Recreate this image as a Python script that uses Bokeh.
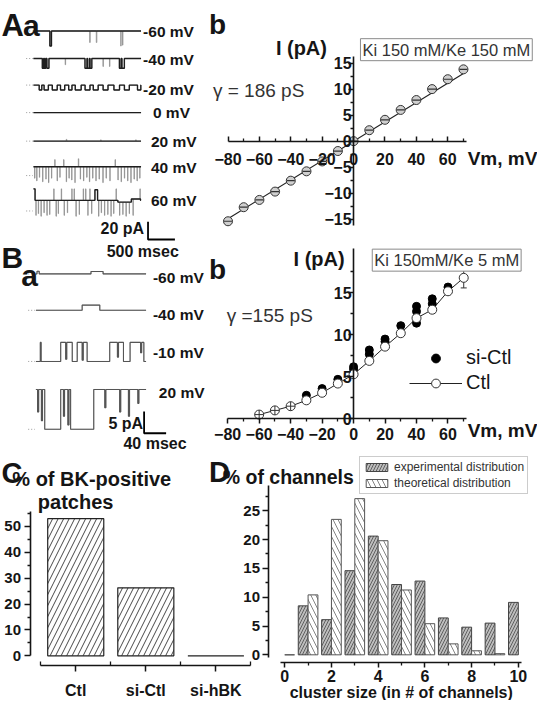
from bokeh.plotting import figure
from bokeh.models import (Range1d, FixedTicker, Label, Legend, LegendItem, LinearAxis,
                          ColumnDataSource, Whisker, TeeHead)
from bokeh.embed import file_html
from bokeh.resources import INLINE

# ======================= DATA =======================
# --- Panel A b : I-V, Ki 150 / Ke 150
ab_vm = [-80, -70, -60, -50, -40, -30, -20, -10, 0, 10, 20, 30, 40, 50, 60, 70]
ab_i = [-15.4, -12.7, -11.3, -9.7, -7.6, -5.8, -3.9, -1.9, 0.0, 2.1, 4.1, 6.0, 7.9, 10.0, 11.9, 13.8]
ab_fit_vm = [-80, 70]
ab_fit_i = [-14.9, 13.0]

# --- Panel B b : I-V, Ki 150 / Ke 5
ctl_vm = [-60, -50, -40, -30, -20, -10, 0, 10, 20, 30, 40, 50, 60, 70]
ctl_i = [0.5, 1.0, 1.5, 2.2, 3.1, 4.2, 5.3, 6.9, 8.6, 10.2, 12.0, 13.0, 15.2, 16.8]
ctl_err = [0.2, 0.2, 0.2, 0.2, 0.2, 0.2, 0.3, 0.3, 0.3, 0.3, 0.3, 0.4, 0.4, 1.2]
sictl_vm = [-30, -20, -10, 0, 0, 10, 10, 20, 20, 30, 40, 40, 40, 50, 50, 60]
sictl_i = [2.8, 3.6, 4.7, 6.2, 5.9, 8.2, 7.7, 9.5, 9.2, 11.1, 13.4, 12.8, 11.4, 14.3, 13.7, 15.7]

# --- Panel C
c_groups = ["Ctl", "si-Ctl", "si-hBK"]
c_pct = [53.0, 26.3, 0.0]

# --- Panel D
d_exp_size = [1, 2, 3, 4, 5, 6, 7, 8, 9, 10]
d_exp_pct = [8.5, 6.1, 14.6, 20.6, 12.2, 12.8, 6.4, 4.8, 5.5, 9.1]
d_theo_size = [0, 1, 2, 3, 4, 5, 6, 7, 8, 9]
d_theo_pct = [0.0, 10.4, 23.5, 27.1, 19.8, 11.25, 5.4, 1.9, 0.7, 0.2]

# --- Panel A a : single-channel records (t in ms, current in pA), events = (start, end, level)
aa_labels = ["-60 mV", "-40 mV", "-20 mV", "0 mV", "20 mV", "40 mV", "60 mV"]
aa_duration_ms = 2000
aa_rest_pa = [0, 0, 0, 0, 0, 10, 12]
aa_ev_m60 = [(305, 335, -17), (1045, 1055, -13), (1168, 1178, -13), (1622, 1630, -17), (1655, 1663, -16)]
aa_ev_m40 = [(165, 190, -11), (205, 228, -11), (250, 288, -11), (590, 598, -7), (958, 995, -11),
             (1005, 1040, -11), (1052, 1085, -11), (1292, 1300, -9), (1413, 1421, -9),
             (1598, 1630, -11), (1645, 1690, -11)]
aa_ev_m20 = [(107, 155, -5.5), (198, 277, -5.5), (350, 442, -5.5), (503, 581, -5.5), (655, 716, -5.5),
             (777, 887, -5.5), (960, 1051, -5.5), (1112, 1203, -5.5), (1295, 1386, -5.5),
             (1496, 1600, -5.5), (1691, 1782, -5.5), (1934, 1996, -5.5)]
aa_ev_0 = []
aa_ev_p20 = [(610, 620, 2), (1250, 1258, 1.5), (1900, 1910, 1.5)]
aa_ev_p40 = [(395, 403, 18), (560, 568, 18), (834, 842, 19), (1517, 1525, 18),
             (20, 28, -3), (60, 66, -6), (110, 116, -2), (170, 176, -7), (230, 236, -4), (280, 286, -8),
             (335, 341, -3), (440, 446, -6), (490, 496, -2), (610, 616, -7), (660, 666, -3), (710, 716, -5),
             (770, 776, -8), (870, 876, -4), (930, 936, -6), (990, 996, -2), (1040, 1046, -7),
             (1100, 1106, -3), (1160, 1166, -6), (1220, 1226, -4), (1290, 1296, -8), (1350, 1356, -3),
             (1420, 1426, -6), (1570, 1576, -5), (1630, 1636, -7), (1690, 1696, -3), (1750, 1756, -6),
             (1810, 1816, -8), (1870, 1876, -4), (1925, 1931, -6), (1975, 1981, -3)]
aa_ev_p60 = [(1569, 1820, 10), (1820, 1990, 13.5),
             (0, 30, 25), (377, 384, 25), (517, 524, 25), (712, 719, 25), (755, 762, 25), (925, 932, 25),
             (969, 976, 25), (1047, 1054, 25), (1143, 1192, 24), (1535, 1542, 25), (1979, 1986, 25),
             (45, 51, -5), (90, 96, -3), (140, 146, -6), (195, 201, -2), (250, 256, -5), (300, 306, -4),
             (420, 426, -6), (460, 466, -3), (570, 576, -5), (630, 636, -2), (790, 796, -6),
             (850, 856, -4), (1010, 1016, -5), (1080, 1086, -3), (1210, 1216, -6), (1260, 1266, -2),
             (1320, 1326, -5), (1380, 1386, -4), (1440, 1446, -6), (1490, 1496, -3), (1600, 1606, -5),
             (1660, 1666, -4), (1720, 1726, -6), (1780, 1786, -3), (1850, 1856, -5)]
aa_events = [aa_ev_m60, aa_ev_m40, aa_ev_m20, aa_ev_0, aa_ev_p20, aa_ev_p40, aa_ev_p60]
aa_scale_pa, aa_scale_ms = 20, 500

# --- Panel B a : single-channel records
ba_labels = ["-60 mV", "-40 mV", "-10 mV", "20 mV"]
ba_duration_ms = 200
ba_rest_pa = [0, 0, 0, 0]
ba_ev_m60 = [(2, 6, 0.6), (100, 122, 0.55)]
ba_ev_m40 = [(84, 116, 1.2)]
ba_ev_m10 = [(8, 9.5, 4.4), (45, 66, 4.4), (54, 56, 0.5), (75, 93, 4.4), (84, 86, 0.3),
             (134, 159, 4.4), (148, 150, 1.0), (171, 196, 4.4), (190, 192, 2.0)]
ba_ev_p20 = [(0, 16, 9.2), (3, 5, 4.0), (10, 12, 2.0), (45, 63, 9.2), (50, 52, 3.0), (58, 60, 1.0),
             (105, 200, 9.2), (125, 127, 5.0), (152, 154, 4.0), (168, 170, 3.0), (185, 187, 6.0)]
ba_events = [ba_ev_m60, ba_ev_m40, ba_ev_m10, ba_ev_p20]
ba_scale_pa, ba_scale_ms = 5, 40

# ======================= LAYOUT =======================
W, H = 537, 700
K = 0.9835            # reference px -> canvas px
X0, Y0 = 2.0, 3.0     # reference px shown at canvas origin
XE, YE = X0 + W / K, Y0 + H / K
FONT = "Liberation Sans"
INK = "#151515"

p = figure(width=W, height=H, x_range=Range1d(X0, XE), y_range=Range1d(YE, Y0),
           x_axis_type=None, y_axis_type=None, output_backend="svg", toolbar_location=None,
           min_border=0, min_border_left=0, min_border_right=0, min_border_top=0, min_border_bottom=0,
           background_fill_color="white", border_fill_color="white", outline_line_color=None)


def add_ranges(name, x0, sx, y0, sy):
    # X_ref = x0 + sx * v ; Y_ref = y0 - sy * v
    p.extra_x_ranges[name] = Range1d((X0 - x0) / sx, (XE - x0) / sx)
    p.extra_y_ranges[name] = Range1d((y0 - YE) / sy, (y0 - Y0) / sy)


def add_axis(place, name, fixed, ticks, minor, tin, tout, min_in, min_out, standoff,
             size="16px", bounds=None, overrides=None):
    ax = LinearAxis(x_range_name=name, y_range_name=name, fixed_location=fixed)
    ax.ticker = FixedTicker(ticks=ticks, minor_ticks=minor)
    ax.major_tick_in = tin
    ax.major_tick_out = tout
    ax.minor_tick_in = min_in
    ax.minor_tick_out = min_out
    ax.axis_line_width = 1.6
    ax.axis_line_color = INK
    ax.major_tick_line_width = 1.5
    ax.major_tick_line_color = INK
    ax.minor_tick_line_width = 1.3
    ax.minor_tick_line_color = INK
    ax.major_label_text_font = FONT
    ax.major_label_text_font_style = "bold"
    ax.major_label_text_font_size = size
    ax.major_label_text_color = INK
    ax.major_label_standoff = standoff
    if bounds is not None:
        ax.bounds = bounds
    if overrides is not None:
        ax.major_label_overrides = overrides
    p.add_layout(ax, place)
    return ax


def step_trace(rest, events, t_end):
    bps = sorted(set([0, t_end] + [e[0] for e in events] + [e[1] for e in events]))
    bps = [b for b in bps if 0 <= b <= t_end]
    xs, ys = [], []
    for a, b in zip(bps[:-1], bps[1:]):
        lvl = rest
        for s, e, l in events:
            if s <= a and e >= b:
                lvl = l
        xs += [a, b]
        ys += [lvl, lvl]
    return xs, ys


iv_major = [-80, -60, -40, -20, 0, 20, 40, 60]
iv_minor = [-70, -50, -30, -10, 10, 30, 50, 70]

# ---------- Panel A b ----------
add_ranges("ab", 361.0, 1.596, 146.0, 5.29)
add_axis("below", "ab", 0, iv_major, iv_minor, 5, 0, 3, 0, 12, bounds=(-80, 72))
add_axis("left", "ab", 0, [-15, -10, -5, 0, 5, 10, 15], [-12.5, -7.5, -2.5, 2.5, 7.5, 12.5],
         0, 5, 0, 3, -3, bounds=(-16.2, 16.3))
rk = dict(x_range_name="ab", y_range_name="ab")
p.line(ab_fit_vm, ab_fit_i, line_color="#222", line_width=1.2, **rk)
p.scatter(ab_vm, ab_i, size=9, marker="circle", fill_color="#cfcfcf", line_color="#333", line_width=1, **rk)
p.scatter(ab_vm, ab_i, size=8, marker="dash", line_color="#333", line_width=1.2, **rk)

# ---------- Panel B b ----------
add_ranges("bb", 361.0, 1.6, 428.3, 8.53)
add_axis("below", "bb", 0, iv_major, iv_minor, 0, 5, 0, 3, 4, bounds=(-80, 72))
add_axis("left", "bb", 0, [0, 5, 10, 15], [2.5, 7.5, 12.5, 17.5], 0, 5, 0, 3, -3, bounds=(0, 20.3))
rk = dict(x_range_name="bb", y_range_name="bb")
ctl_src = ColumnDataSource(dict(
    v=ctl_vm, i=ctl_i,
    lo=[a - b for a, b in zip(ctl_i, ctl_err)], hi=[a + b for a, b in zip(ctl_i, ctl_err)],
    m=["circle_cross" if v <= -40 else "circle" for v in ctl_vm]))
r_line = p.line("v", "i", source=ctl_src, line_color="#222", line_width=1, **rk)
p.add_layout(Whisker(base="v", upper="hi", lower="lo", source=ctl_src, line_color="#333", line_width=1,
                     upper_head=TeeHead(size=6, line_color="#333"),
                     lower_head=TeeHead(size=6, line_color="#333"), **rk))
r_si = p.scatter(sictl_vm, sictl_i, size=8, marker="circle", fill_color="black", line_color="black", **rk)
r_ctl = p.scatter("v", "i", source=ctl_src, marker="m", size=9, fill_color="white",
                  line_color="#333", line_width=1, **rk)
ctl_legend_row = ctl_vm.index(0)
p.add_layout(Legend(items=[LegendItem(label="si-Ctl", renderers=[r_si]),
                           LegendItem(label="Ctl", renderers=[r_line, r_ctl], index=ctl_legend_row)],
                    location=(round((418 - X0) * K), round((YE - 404) * K)),
                    background_fill_alpha=0, border_line_color=None,
                    label_text_font=FONT, label_text_font_size="20px", label_text_color=INK,
                    glyph_width=53, glyph_height=22, label_height=22, spacing=2, padding=0, margin=0,
                    label_standoff=4))

# ---------- Panel C ----------
c_x0, c_sx, c_y0, c_sy = 7.25, 71.25, 669.3, 2.63
add_ranges("c", c_x0, c_sx, c_y0, c_sy)
c_pos = list(range(1, len(c_groups) + 1))
add_axis("below", "c", (c_y0 - 679) / c_sy, c_pos, [c - 0.5 for c in c_pos] + [c_pos[-1] + 0.5],
         0, 6, 4, 0, 11, size="16px", bounds=(0.5, len(c_groups) + 0.5),
         overrides={c: g for c, g in zip(c_pos, c_groups)})
add_axis("left", "c", (32 - c_x0) / c_sx, [0, 10, 20, 30, 40, 50], [5, 15, 25, 35, 45, 55],
         0, 6, 0, 3, 3, size="15px", bounds=(0, 55.6))
p.vbar(x=c_pos, top=c_pct, bottom=0, width=0.8, fill_color="white", line_color="#222", line_width=1.2,
       hatch_pattern="/", hatch_color="#333", hatch_scale=11, hatch_weight=0.9,
       x_range_name="c", y_range_name="c")

# ---------- Panel D ----------
d_x0, d_sx, d_y0, d_sy = 291.0, 23.75, 668.3, 5.86
add_ranges("d", d_x0, d_sx, d_y0, d_sy)
add_axis("below", "d", (d_y0 - 676) / d_sy, [0, 2, 4, 6, 8, 10], [1, 3, 5, 7, 9], 0, 5, 0, 3, 3,
         size="16px", bounds=(-0.17, 10.15))
add_axis("left", "d", (275 - d_x0) / d_sx, [0, 5, 10, 15, 20, 25], [2.5, 7.5, 12.5, 17.5, 22.5, 27.5],
         0, 6, 0, 3, 3, size="15px", bounds=(-0.4, 29.3))
bw = 0.42
rk = dict(x_range_name="d", y_range_name="d")
r_exp = p.vbar(x=[c - bw / 2 for c in d_exp_size], top=d_exp_pct, bottom=0, width=bw,
               fill_color="#bdbdbd", line_color="#444", line_width=1,
               hatch_pattern="/", hatch_color="#555", hatch_scale=6, hatch_weight=0.9, **rk)
r_theo = p.vbar(x=[c + bw / 2 for c in d_theo_size], top=d_theo_pct, bottom=0, width=bw,
                fill_color="white", line_color="#555", line_width=1,
                hatch_pattern="\\", hatch_color="#777", hatch_scale=10, hatch_weight=0.9, **rk)
p.add_layout(Legend(items=[LegendItem(label="experimental distribution", renderers=[r_exp]),
                           LegendItem(label="theoretical distribution", renderers=[r_theo])],
                    location=(round((367 - X0) * K), round((YE - 505) * K)),
                    background_fill_color="white", border_line_color="#999", border_line_width=1,
                    label_text_font=FONT, label_text_font_size="12px", label_text_color="#333",
                    glyph_width=27, glyph_height=10, label_height=10, spacing=2, padding=3, margin=0,
                    label_standoff=4))


# ---------- single-channel traces ----------
def draw_traces(name, rests, events, bases, t_end, ytop, sy, dots, dark, light, width):
    rk = dict(x_range_name=name, y_range_name=name)
    for rest, ev, Yb in zip(rests, events, bases):
        off = (ytop - Yb) / sy
        xs, ys = step_trace(rest, ev, t_end)                    # every event (brief ones look faint)
        p.line(xs, [y + off for y in ys], line_color=light, line_width=0.8, **rk)
        long_ev = [e for e in ev if e[1] - e[0] >= t_end * 0.006]
        xs, ys = step_trace(rest, long_ev, t_end)               # resolved events, drawn dark
        p.line(xs, [y + off for y in ys], line_color=dark, line_width=width, **rk)
        p.line(dots, [off, off], line_color="#999", line_width=1, line_dash="1 2", **rk)


aa_ytop = 25.0
add_ranges("aa", 35.5, 0.0547, aa_ytop, 0.9)
draw_traces("aa", aa_rest_pa, aa_events, [34, 62, 89, 117, 146, 181, 217], aa_duration_ms,
            aa_ytop, 0.9, [-135, -12], "#1e1e1e", "#8a8a8a", 1.4)
sb_t = (152 - 35.5) / 0.0547
sb_y = (aa_ytop - 246) / 0.9
p.line([sb_t, sb_t, sb_t + aa_scale_ms], [sb_y + aa_scale_pa, sb_y, sb_y], line_color="black",
       line_width=1.8, x_range_name="aa", y_range_name="aa")

ba_ytop = 272.0
add_ranges("ba", 38.0, 0.56, ba_ytop, 4.4)
draw_traces("ba", ba_rest_pa, ba_events, [281, 318, 370, 439], ba_duration_ms,
            ba_ytop, 4.4, [-14, -2], "#555555", "#9a9a9a", 1.1)
sb_t = (148 - 38.0) / 0.56
sb_y = (ba_ytop - 443) / 4.4
p.line([sb_t, sb_t, sb_t + ba_scale_ms], [sb_y + ba_scale_pa, sb_y, sb_y], line_color="black",
       line_width=1.8, x_range_name="ba", y_range_name="ba")


# ---------- texts (reference pixel coordinates) ----------
def add_text(text, X, Y, size, bold=False, align="left", baseline="middle", color=INK, **kw):
    p.add_layout(Label(x=X, y=Y, text=text, text_font=FONT, text_font_size=f"{size}px",
                       text_font_style="bold" if bold else "normal", text_align=align,
                       text_baseline=baseline, text_color=color, **kw))


add_text("A", 3, 28, 31, True, baseline="alphabetic")
add_text("a", 25, 28, 30, True, baseline="alphabetic")
add_text("b", 214, 27, 28, True, baseline="alphabetic")
add_text("B", 3, 264, 30, True, baseline="alphabetic")
add_text("a", 23, 283, 30, True, baseline="alphabetic")
add_text("b", 214, 277, 28, True, baseline="alphabetic")
add_text("C", 3, 483, 29, True, baseline="alphabetic")
add_text("D", 214, 482, 29, True, baseline="alphabetic")

aa_label_pos = [(147, 35), (147, 63), (147, 94), (157, 117), (155, 146), (155, 173), (155, 206)]
for lab, (X, Y) in zip(aa_labels, aa_label_pos):
    add_text(lab, X, Y, 15.5, True)
add_text(f"{aa_scale_pa} pA", 148, 235, 16, True, align="right")
add_text(f"{aa_scale_ms} msec", 110, 258, 16, True)

ba_label_pos = [(157, 285), (157, 322), (157, 361), (163, 402)]
for lab, (X, Y) in zip(ba_labels, ba_label_pos):
    add_text(lab, X, Y, 15.5, True)
add_text(f"{ba_scale_pa} pA", 147, 433, 16, True, align="right")
add_text(f"{ba_scale_ms} msec", 127, 453, 16, True)

add_text("I (pA)", 282, 51, 20, True)
add_text("Ki 150 mM/Ke 150 mM", 368, 53, 16.5, color="#333",
         border_line_color="#8a8a8a", border_line_width=1, background_fill_color="white", padding=2)
add_text("\u03b3 = 186 pS", 218, 95, 19, color="#333")
add_text("Vm, mV", 477, 164, 19, True)

add_text("I (pA)", 300, 266, 20, True)
add_text("Ki 150mM/Ke 5 mM", 380, 267, 16.5, color="#333",
         border_line_color="#8a8a8a", border_line_width=1, background_fill_color="white", padding=2)
add_text("\u03b3  =155 pS", 232, 323, 19, color="#333")
add_text("Vm, mV", 477, 440, 19, True)

add_text("% of BK-positive", 14, 490, 20, True)
add_text("patches", 40, 513, 20, True)
add_text("% of channels", 228, 488, 19.5, True)
add_text("cluster size (in # of channels)", 296, 707, 16, True)

open("out.html", "w").write(file_html(p, INLINE))
